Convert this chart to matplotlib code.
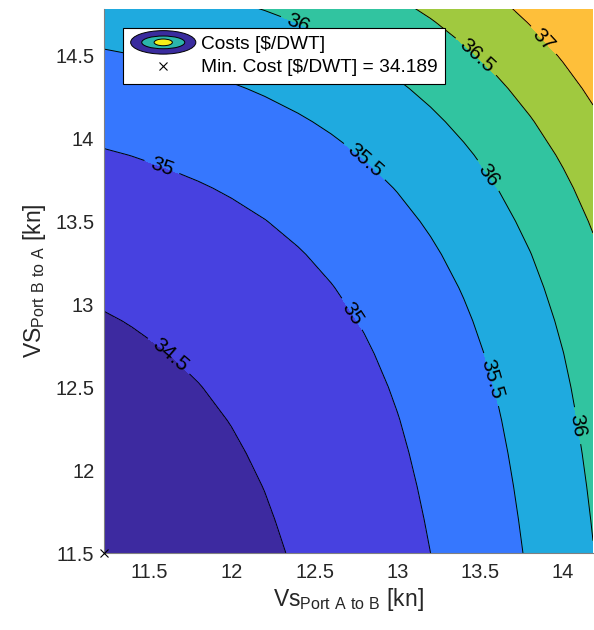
import matplotlib
matplotlib.use('Agg')
import matplotlib.pyplot as plt
import numpy as np
from matplotlib.legend_handler import HandlerBase
from matplotlib.lines import Line2D
from matplotlib.patches import Ellipse, Patch

plt.rcParams['font.family'] = ['Liberation Sans', 'DejaVu Sans']
plt.rcParams['mathtext.fontset'] = 'custom'
plt.rcParams['mathtext.rm'] = 'Liberation Sans'

# speeds [kn] and costs [$/DWT] read along the plot edges
speed_ab = [11.23, 11.4, 11.6, 11.8, 12.0, 12.2, 12.4, 12.6, 12.8, 13.0,
            13.2, 13.4, 13.6, 13.8, 14.0, 14.18]
cost_along_ab = [34.189, 34.222, 34.266, 34.318, 34.378, 34.448, 34.530, 34.625,
                 34.734, 34.859, 35.000, 35.161, 35.341, 35.543, 35.767, 35.990]
speed_ba = [11.5, 11.7, 11.9, 12.1, 12.3, 12.5, 12.7, 12.9, 13.1, 13.3,
            13.5, 13.7, 13.9, 14.1, 14.3, 14.5, 14.7, 14.8]
cost_along_ba = [34.189, 34.216, 34.246, 34.280, 34.319, 34.364, 34.417, 34.479,
                 34.552, 34.636, 34.734, 34.845, 34.972, 35.117, 35.279, 35.461,
                 35.664, 35.773]
min_cost = 34.189
min_point = (11.23, 11.5)

levels = [34.5, 35, 35.5, 36, 36.5, 37]
band_colors = ['#3D2AA0', '#4741E0', '#3677FE', '#1FAADF', '#31C4A0', '#A0C93F', '#FEBF3A']
label_pos = [(11.69, 12.76), (11.57, 13.80), (12.71, 12.93), (12.83, 13.89),
             (13.58, 12.55), (12.41, 14.71), (13.54, 13.77), (14.10, 12.27),
             (13.49, 14.51), (13.89, 14.60)]

X, Y = np.meshgrid(speed_ab, speed_ba)
Z = np.add.outer(np.array(cost_along_ba), np.array(cost_along_ab)) - min_cost


class CostHandler(HandlerBase):
    def create_artists(self, legend, orig_handle, xdescent, ydescent,
                       width, height, fontsize, trans):
        cx = 0.5 * width - xdescent
        cy = 0.5 * height - ydescent
        arts = []
        for w, h, c in [(1.0, 1.75, '#3A2C9E'), (0.66, 0.95, '#2BB5AA'), (0.28, 0.5, '#F5F018')]:
            arts.append(Ellipse((cx, cy), width * w, height * h, facecolor=c,
                                edgecolor='k', lw=0.7, transform=trans))
        return arts


fig = plt.figure(figsize=(5.94, 6.30), dpi=100)
ax = fig.add_axes([104 / 594, 77 / 630, 489 / 594, 544 / 630])

ax.contourf(X, Y, Z, levels=[34.0] + levels + [38.0], colors=band_colors)
cs = ax.contour(X, Y, Z, levels=levels, colors='k', linewidths=0.7)
lbls = ax.clabel(cs, fmt='%g', fontsize=15, inline=True, inline_spacing=7, manual=label_pos)
for t in lbls:
    t.set_fontsize(15)

ax.plot(*min_point, 'kx', ms=6, mew=0.8, clip_on=False, zorder=5)

ax.set_xlim(11.23, 14.18)
ax.set_ylim(11.5, 14.78)
ax.set_xticks([11.5, 12, 12.5, 13, 13.5, 14])
ax.set_yticks([11.5, 12, 12.5, 13, 13.5, 14, 14.5])
ax.set_xticklabels(['11.5', '12', '12.5', '13', '13.5', '14'])
ax.set_yticklabels(['11.5', '12', '12.5', '13', '13.5', '14', '14.5'])
ax.tick_params(length=0, labelsize=14.5, colors='#262626', pad=7)
for s in ['top', 'right']:
    ax.spines[s].set_visible(False)
for s in ['left', 'bottom']:
    ax.spines[s].set_color('#808080')
    ax.spines[s].set_linewidth(0.8)

ax.set_xlabel(r'Vs$_{\mathrm{Port\ A\ to\ B}}$ [kn]', fontsize=16.5, color='#262626', labelpad=3)
ax.set_ylabel(r'VS$_{\mathrm{Port\ B\ to\ A}}$ [kn]', fontsize=16.5, color='#262626', labelpad=5)

cost_proxy = Patch()
min_proxy = Line2D([], [], ls='none', marker='x', color='k', ms=6, mew=0.8)
leg = ax.legend([cost_proxy, min_proxy],
                ['Costs [$/DWT]', 'Min. Cost [$/DWT] = %.3f' % min_cost],
                handler_map={Patch: CostHandler()},
                loc='upper left', bbox_to_anchor=(123 / 594, 1 - 28 / 630),
                bbox_transform=fig.transFigure, fontsize=13.8, fancybox=False,
                framealpha=1, edgecolor='k', handlelength=3.4, handletextpad=0.26,
                borderpad=0.4, labelspacing=0.3, borderaxespad=0)
leg.get_frame().set_linewidth(0.8)
leg.set_zorder(10)

fig.savefig('out.png', dpi=100)
